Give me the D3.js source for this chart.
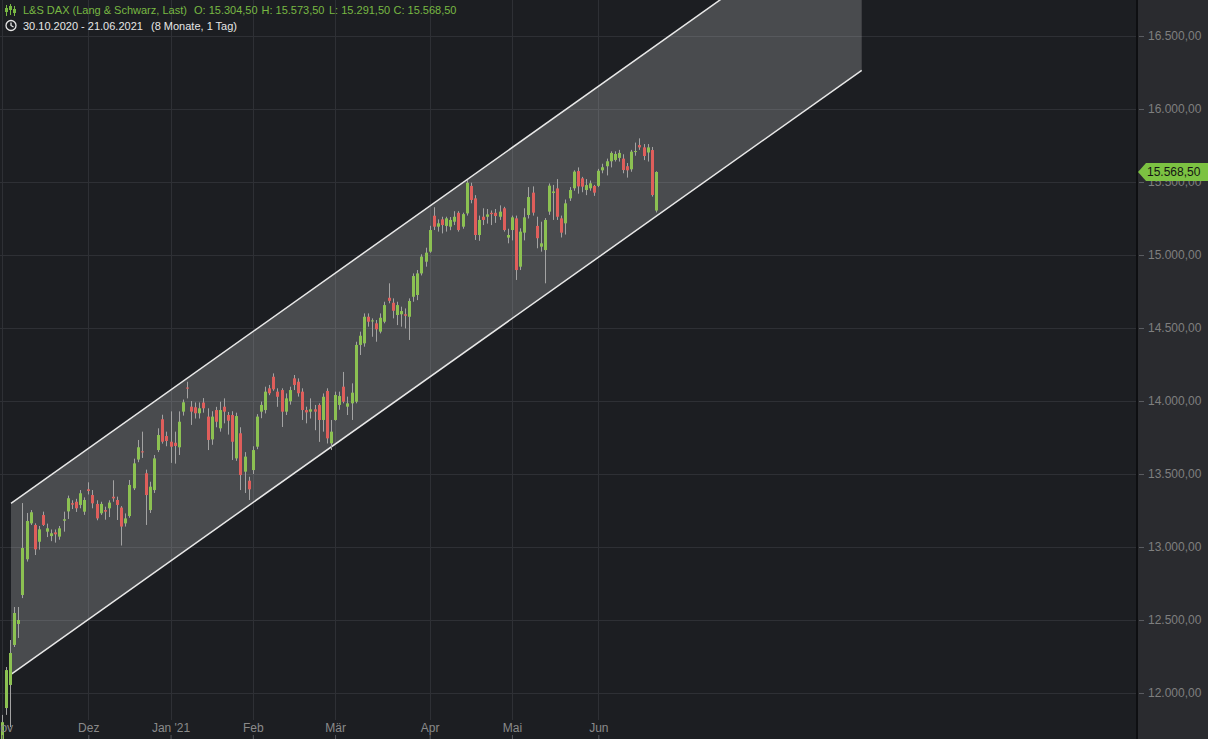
<!DOCTYPE html>
<html><head><meta charset="utf-8">
<script src="https://cdn.jsdelivr.net/npm/d3@7"></script>
<style>
html,body{margin:0;padding:0;background:#1c1e22;overflow:hidden;}
svg{display:block;font-family:"Liberation Sans",Arial,sans-serif;}
</style></head><body>
<svg id="chart" width="1208" height="739"></svg>
<script>
// ---------- DATA ----------
const dates = [
"2020-10-30",
"2020-11-02","2020-11-03","2020-11-04","2020-11-05","2020-11-06","2020-11-09","2020-11-10","2020-11-11","2020-11-12","2020-11-13",
"2020-11-16","2020-11-17","2020-11-18","2020-11-19","2020-11-20","2020-11-23","2020-11-24","2020-11-25","2020-11-26","2020-11-27","2020-11-30",
"2020-12-01","2020-12-02","2020-12-03","2020-12-04","2020-12-07","2020-12-08","2020-12-09","2020-12-10","2020-12-11","2020-12-14",
"2020-12-15","2020-12-16","2020-12-17","2020-12-18","2020-12-21","2020-12-22","2020-12-23","2020-12-28","2020-12-29","2020-12-30",
"2021-01-04","2021-01-05","2021-01-06","2021-01-07","2021-01-08","2021-01-11","2021-01-12","2021-01-13","2021-01-14","2021-01-15",
"2021-01-18","2021-01-19","2021-01-20","2021-01-21","2021-01-22","2021-01-25","2021-01-26","2021-01-27","2021-01-28","2021-01-29",
"2021-02-01","2021-02-02","2021-02-03","2021-02-04","2021-02-05","2021-02-08","2021-02-09","2021-02-10","2021-02-11","2021-02-12",
"2021-02-15","2021-02-16","2021-02-17","2021-02-18","2021-02-19","2021-02-22","2021-02-23","2021-02-24","2021-02-25","2021-02-26",
"2021-03-01","2021-03-02","2021-03-03","2021-03-04","2021-03-05","2021-03-08","2021-03-09","2021-03-10","2021-03-11","2021-03-12",
"2021-03-15","2021-03-16","2021-03-17","2021-03-18","2021-03-19","2021-03-22","2021-03-23","2021-03-24","2021-03-25","2021-03-26",
"2021-03-29","2021-03-30","2021-03-31",
"2021-04-01","2021-04-06","2021-04-07","2021-04-08","2021-04-09","2021-04-12","2021-04-13","2021-04-14","2021-04-15","2021-04-16",
"2021-04-19","2021-04-20","2021-04-21","2021-04-22","2021-04-23","2021-04-26","2021-04-27","2021-04-28","2021-04-29","2021-04-30",
"2021-05-03","2021-05-04","2021-05-05","2021-05-06","2021-05-07","2021-05-10","2021-05-11","2021-05-12","2021-05-13","2021-05-14",
"2021-05-17","2021-05-18","2021-05-19","2021-05-20","2021-05-21","2021-05-24","2021-05-25","2021-05-26","2021-05-27","2021-05-28",
"2021-05-31",
"2021-06-01","2021-06-02","2021-06-03","2021-06-04","2021-06-07","2021-06-08","2021-06-09","2021-06-10","2021-06-11","2021-06-14",
"2021-06-15","2021-06-16","2021-06-17","2021-06-18","2021-06-21"
];
const open = [
11580,
11600,11897,12055,12329,12473,12671,12916,13162,13151,13036,
13219,13105,13075,13100,13071,13180,13244,13300,13310,13288,13242,
13395,13356,13295,13231,13253,13265,13344,13322,13270,13162,
13212,13402,13599,13655,13505,13253,13390,13664,13875,13760,
13721,13714,13683,13927,14092,13961,13957,13916,13989,13893,
13737,13938,13813,13961,13904,13904,13607,13779,13516,13454,
13527,13687,13927,13938,14087,14166,14064,14075,13927,13998,
14155,14132,14064,13938,13927,13943,13973,13870,14069,13710,
13870,13973,14098,13961,13984,13995,14384,14395,14577,14545,
14532,14475,14543,14707,14673,14589,14594,14594,14577,14714,
14726,14874,14954,
15023,15269,15194,15244,15199,15194,15228,15289,15194,15285,
15473,15388,15137,15262,15262,15289,15289,15262,15320,15119,
15171,15251,14920,15153,15274,15427,15199,15057,15034,15297,
15425,15456,15251,15217,15388,15457,15575,15525,15445,15457,
15473,
15474,15580,15608,15642,15651,15665,15660,15608,15587,15705,
15753,15737,15702,15719,15304.5
];
const high = [
11640,
11850,12178,12363,12589,12589,13301,13233,13253,13162,13144,
13242,13160,13120,13120,13144,13242,13352,13320,13330,13390,13340,
13443,13390,13320,13310,13276,13320,13457,13345,13280,13230,
13459,13605,13733,13790,13530,13447,13630,13813,13906,13790,
13929,13790,13929,14010,14132,14000,13990,13990,14020,13950,
13930,13960,13995,14018,13925,13930,13920,13820,13650,13481,
13690,13910,13996,14098,14110,14189,14087,14087,14052,14098,
14178,14155,14087,13961,14018,13973,13984,14052,14087,13870,
14064,14064,14199,14030,14121,14406,14475,14600,14600,14566,
14555,14600,14680,14806,14703,14680,14646,14634,14703,14874,
14897,15005,15050,
15200,15327,15244,15262,15262,15260,15300,15300,15290,15514,
15495,15410,15270,15320,15315,15305,15315,15340,15330,15180,
15270,15270,15183,15320,15465,15470,15262,15228,15253,15490,
15480,15520,15270,15380,15465,15580,15600,15535,15520,15510,
15480,
15590,15625,15660,15710,15710,15720,15690,15630,15720,15770,
15799,15760,15760,15740,15573.5
];
const low = [
11450,
11560,11850,11767,12315,12377,12650,12900,13151,12945,12982,
13144,13068,13040,13030,13050,13105,13192,13260,13240,13265,13220,
13360,13265,13183,13220,13187,13205,13310,13185,13010,13140,
13200,13390,13581,13610,13151,13233,13370,13650,13708,13690,
13576,13571,13630,13900,14018,13836,13880,13880,13920,13664,
13700,13820,13790,13847,13770,13596,13590,13390,13370,13322,
13500,13670,13882,13915,14040,14070,13960,13822,13904,13975,
14075,14030,13870,13847,13880,13800,13720,13790,13709,13664,
13865,13940,13984,13904,13870,13984,14315,14372,14509,14440,
14406,14463,14532,14669,14566,14520,14509,14497,14418,14680,
14691,14860,14920,
15015,15171,15160,15148,15160,15170,15205,15160,15180,15270,
15354,15103,15097,15205,15215,15205,15220,15240,15160,15080,
15100,14829,14897,15100,15250,15270,15046,15023,14806,15275,
15240,15240,15120,15140,15370,15440,15420,15430,15410,15440,
15405,
15465,15560,15545,15600,15640,15640,15560,15530,15570,15680,
15720,15650,15640,15400,15291.5
];
const close = [
11560,
11800,12157,12274,12548,12500,12993,13178,13238,12984,13121,
13151,13128,13094,13087,13128,13190,13334,13290,13265,13368,13322,
13384,13299,13196,13295,13242,13304,13333,13288,13140,13196,
13425,13573,13683,13650,13356,13413,13607,13767,13721,13726,
13687,13692,13858,13991,14085,13927,13916,13950,13950,13733,
13893,13858,13938,13927,13865,13721,13897,13493,13619,13395,
13664,13893,13973,14064,14053,14080,14029,13927,14018,14075,
14110,14053,13938,13922,13943,13927,13870,14029,13744,13790,
14041,14034,13995,13984,14057,14384,14447,14577,14543,14552,
14491,14570,14657,14686,14618,14657,14616,14584,14685,14856,
14874,14989,15016,
15171,15194,15217,15205,15251,15240,15262,15171,15280,15495,
15377,15137,15240,15240,15278,15280,15267,15297,15171,15137,
15258,14897,15160,15258,15397,15290,15115,15080,15240,15475,
15435,15262,15153,15354,15445,15571,15470,15468,15479,15491,
15427,
15577,15601,15642,15699,15692,15699,15582,15580,15708,15712,
15737,15678,15737,15411,15568.5
];
const yTicks = [12000, 12500, 13000, 13500, 14000, 14500, 15000, 15500, 16000, 16500];
const monthStarts = ["2020-11-02","2020-12-01","2021-01-04","2021-02-01","2021-03-01","2021-04-01","2021-05-03","2021-06-01"];
const monthLabels = ["Nov","Dez","Jan '21","Feb","Mär","Apr","Mai","Jun"];
// trend channel: anchor positions in trading-day index, values of lower / upper line
const channelIndex = [3.21, 210.04];
const channelLower = [12128, 16265];
const channelUpper = [13299, 17436];
const title = "L&S DAX (Lang & Schwarz, Last)";
const periodText = "30.10.2020 - 21.06.2021";
const spanText = "(8 Monate, 1 Tag)";

// ---------- LAYOUT ----------
const W = 1208, H = 739, plotR = 1137;
const svg = d3.select("#chart");
const locale = d3.formatLocale({decimal: ",", thousands: ".", grouping: [3], currency: ["", ""]});
const fmt = locale.format(",.2f");

const x = d3.scalePoint().domain(dates).range([-2.2, 655.9]);
const xi = d3.scaleLinear().domain([0, dates.length - 1]).range(x.range());
const y = d3.scaleLinear().domain([12000, 16500]).range([693, 36]);

svg.append("rect").attr("width", W).attr("height", H).attr("fill", "#1c1e22");
const defs = svg.append("defs");
defs.append("clipPath").attr("id", "plotclip").append("rect")
  .attr("x", 0).attr("y", 0).attr("width", plotR).attr("height", H);

const plot = svg.append("g").attr("clip-path", "url(#plotclip)");

// grid
plot.append("g").selectAll("line").data(yTicks).join("line")
  .attr("x1", 0).attr("x2", plotR)
  .attr("y1", d => Math.round(y(d)) + 0.5).attr("y2", d => Math.round(y(d)) + 0.5)
  .attr("stroke", "#2e3035").attr("stroke-width", 1);
plot.append("g").selectAll("line").data(monthStarts).join("line")
  .attr("x1", d => Math.round(x(d)) + 0.5).attr("x2", d => Math.round(x(d)) + 0.5)
  .attr("y1", 0).attr("y2", 720)
  .attr("stroke", "#2e3035").attr("stroke-width", 1);

// channel
const chPoly = [
  [xi(channelIndex[0]), y(channelUpper[0])],
  [xi(channelIndex[1]), y(channelUpper[1])],
  [xi(channelIndex[1]), y(channelLower[1])],
  [xi(channelIndex[0]), y(channelLower[0])]
];
plot.append("path").attr("d", d3.line()(chPoly) + "Z")
  .attr("fill", "#ffffff").attr("fill-opacity", 0.2);
const chLine = d3.line().x(d => xi(d[0])).y(d => y(d[1]));
plot.append("path").attr("d", chLine([[channelIndex[0], channelUpper[0]], [channelIndex[1], channelUpper[1]]]))
  .attr("stroke", "#e8e8e8").attr("stroke-width", 1.5).attr("fill", "none");
plot.append("path").attr("d", chLine([[channelIndex[0], channelLower[0]], [channelIndex[1], channelLower[1]]]))
  .attr("stroke", "#e8e8e8").attr("stroke-width", 1.5).attr("fill", "none");

// candles
const candles = dates.map((d, i) => ({d, o: open[i], h: high[i], l: low[i], c: close[i]}));
const UP = "#8cc152", DOWN = "#df5e5b", WICK = "#a3a3a3";
const cg = plot.append("g");
cg.selectAll("line").data(candles).join("line")
  .attr("x1", d => Math.round(x(d.d)) + 0.5).attr("x2", d => Math.round(x(d.d)) + 0.5)
  .attr("y1", d => y(d.h)).attr("y2", d => y(d.l))
  .attr("stroke", WICK).attr("stroke-width", 1);
cg.selectAll("rect").data(candles).join("rect")
  .attr("x", d => Math.round(x(d.d)) - 1).attr("width", 3)
  .attr("y", d => y(Math.max(d.o, d.c)))
  .attr("height", d => Math.max(1, Math.abs(y(d.o) - y(d.c))))
  .attr("fill", d => d.c >= d.o ? UP : DOWN);

// x axis (labels above ticks)
const xAxis = d3.axisTop(x).tickValues(monthStarts)
  .tickFormat(d => monthLabels[monthStarts.indexOf(d)]).tickSize(4).tickPadding(3);
const gx = svg.append("g").attr("transform", `translate(0,${H})`).call(xAxis);
gx.select(".domain").remove();
gx.selectAll("line").attr("stroke", "#55575c");
gx.selectAll("text").attr("fill", "#8a8a8a").attr("font-size", 12)
  .attr("font-family", "'Liberation Sans',Arial,sans-serif");

// right axis panel
svg.append("rect").attr("x", plotR).attr("y", 0).attr("width", W - plotR).attr("height", H).attr("fill", "#2a2b2f");
svg.append("line").attr("x1", plotR).attr("x2", plotR).attr("y1", 0).attr("y2", H)
  .attr("stroke", "#0e0f12").attr("stroke-width", 2);
const yAxis = d3.axisRight(y).tickValues(yTicks).tickFormat(fmt).tickSize(5).tickPadding(4);
const gy = svg.append("g").attr("transform", `translate(${plotR + 2},0)`).call(yAxis);
gy.select(".domain").remove();
gy.selectAll("line").attr("stroke", "#5a5c61");
gy.selectAll("text").attr("fill", "#7f7f7f").attr("font-size", 12)
  .attr("font-family", "'Liberation Sans',Arial,sans-serif");

// last price tag
const last = candles[candles.length - 1];
const ty = y(last.c);
svg.append("path")
  .attr("d", d3.line()([[plotR + 1, ty], [plotR + 9, ty - 9], [W, ty - 9], [W, ty + 9], [plotR + 9, ty + 9]]) + "Z")
  .attr("fill", "#7cc242");
svg.append("text").attr("x", plotR + 10).attr("y", ty + 4.5).text(fmt(last.c))
  .attr("fill", "#141414").attr("font-size", 12);

// header
const green = "#78b843";
const ic = svg.append("g").attr("stroke", green).attr("fill", green);
[[6.5, 5, 16, 8, 12], [10.5, 4, 15, 6, 10], [14.5, 6, 16, 9, 13]].forEach(([cx, t, b, bt, bb]) => {
  ic.append("line").attr("x1", cx).attr("x2", cx).attr("y1", t).attr("y2", b).attr("stroke-width", 1);
  ic.append("rect").attr("x", cx - 1.5).attr("y", bt).attr("width", 3).attr("height", bb - bt).attr("stroke", "none");
});
const hdr = svg.append("g").attr("font-size", 11).attr("fill", green);
hdr.append("text").attr("x", 23).attr("y", 14).text(title);
hdr.append("text").attr("x", 194).attr("y", 14).text("O: " + fmt(last.o));
hdr.append("text").attr("x", 261.5).attr("y", 14).text("H: " + fmt(last.h));
hdr.append("text").attr("x", 329).attr("y", 14).text("L: " + fmt(last.l));
hdr.append("text").attr("x", 393.5).attr("y", 14).text("C: " + fmt(last.c));

const clk = svg.append("g").attr("stroke", "#e6e6e6").attr("fill", "none").attr("stroke-width", 1.3);
clk.append("circle").attr("cx", 11).attr("cy", 25.5).attr("r", 5);
clk.append("path").attr("d", "M11,22.5 L11,25.5 L13.5,27");
const hdr2 = svg.append("g").attr("font-size", 11).attr("fill", "#e6e6e6");
hdr2.append("text").attr("x", 23).attr("y", 30).text(periodText);
hdr2.append("text").attr("x", 151).attr("y", 30).text(spanText);
</script>
</body></html>
